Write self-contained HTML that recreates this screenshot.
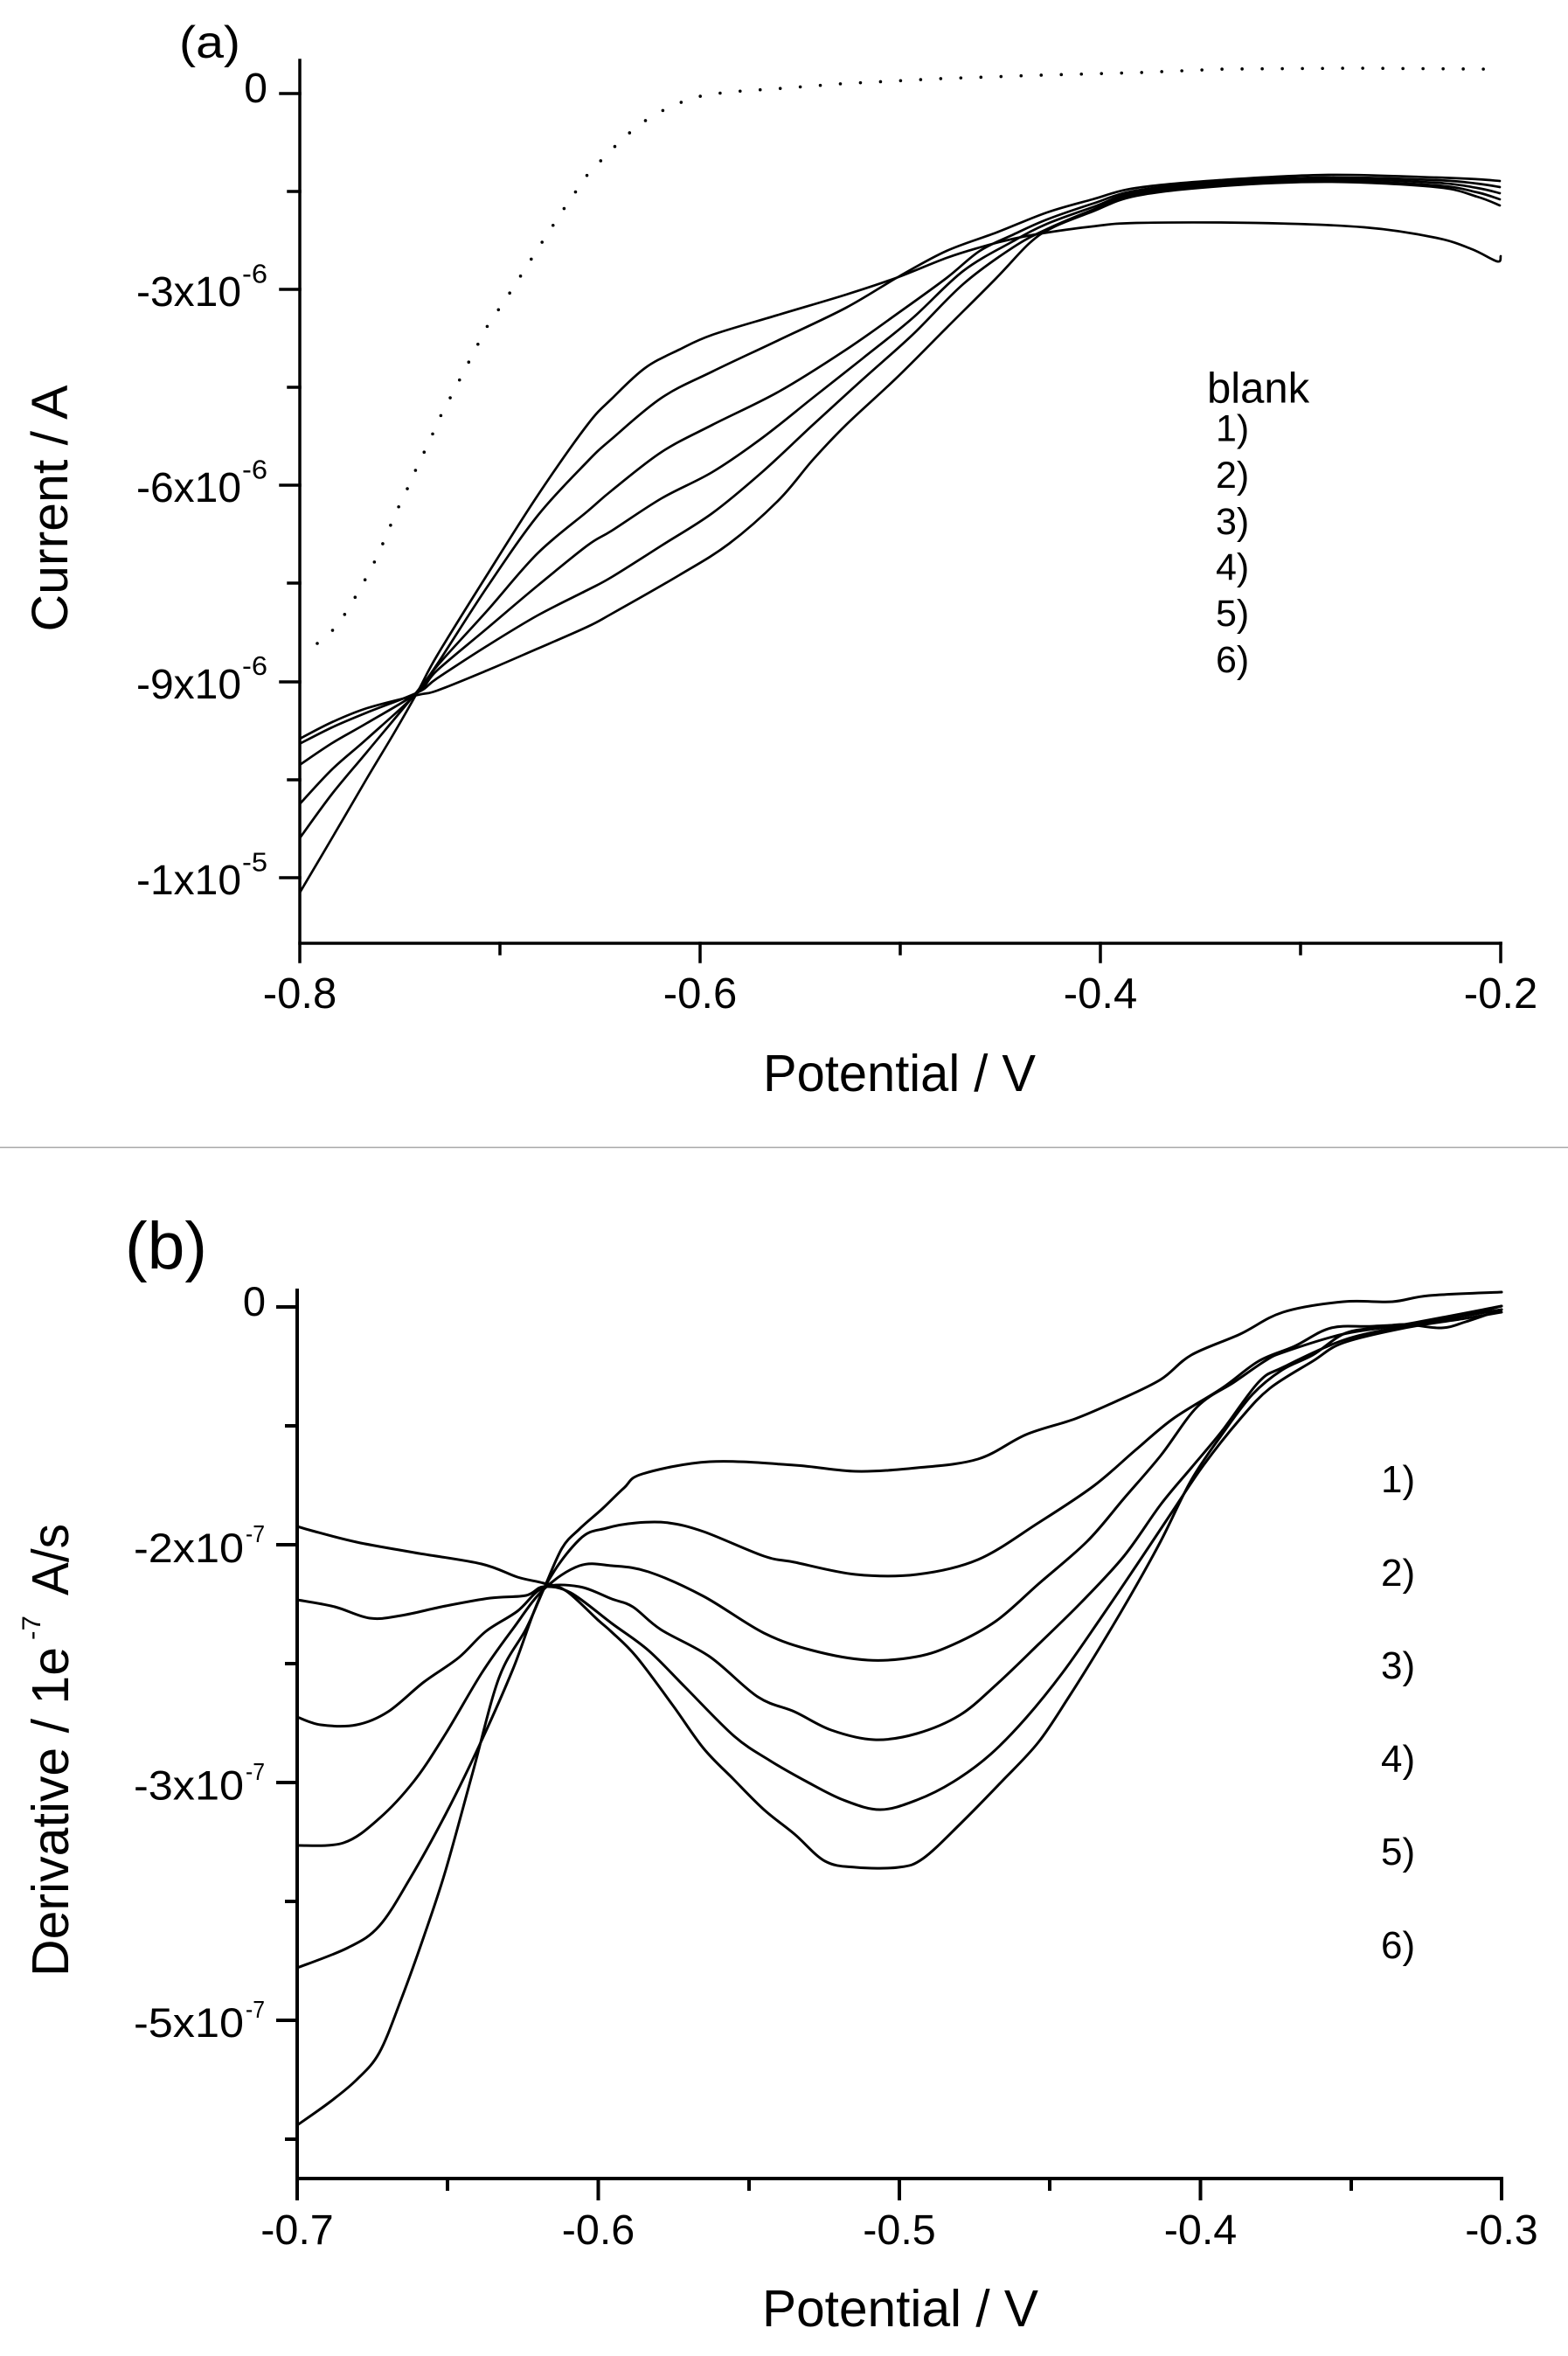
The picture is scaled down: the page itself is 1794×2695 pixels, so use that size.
<!DOCTYPE html>
<html>
<head>
<meta charset="utf-8">
<style>
  html, body { margin: 0; padding: 0; background: #fff; }
  svg { display: block; }
  text { font-family: "Liberation Sans", Arial, sans-serif; fill: #000; }
</style>
</head>
<body>
<svg id="chart" width="1794" height="2695" viewBox="0 0 1794 2695" xmlns="http://www.w3.org/2000/svg">
  <rect x="0" y="0" width="1794" height="2695" fill="#fff"/>

  <!-- ================= PANEL (a) ================= -->
  <text x="205" y="66" font-size="52" textLength="70" lengthAdjust="spacingAndGlyphs">(a)</text>

  <g stroke="#000" stroke-width="3.5" fill="none" stroke-linecap="square">
    <line x1="343" y1="69" x2="343" y2="1100"/>
    <line x1="343" y1="1079" x2="1717" y2="1079"/>
    <line x1="321" y1="107" x2="343" y2="107"/>
    <line x1="321" y1="331" x2="343" y2="331"/>
    <line x1="321" y1="555" x2="343" y2="555"/>
    <line x1="321" y1="780" x2="343" y2="780"/>
    <line x1="321" y1="1004" x2="343" y2="1004"/>
    <line x1="330" y1="219" x2="343" y2="219"/>
    <line x1="330" y1="443" x2="343" y2="443"/>
    <line x1="330" y1="667" x2="343" y2="667"/>
    <line x1="330" y1="892" x2="343" y2="892"/>
    <line x1="801" y1="1079" x2="801" y2="1100"/>
    <line x1="1259" y1="1079" x2="1259" y2="1100"/>
    <line x1="1717" y1="1079" x2="1717" y2="1100"/>
    <line x1="572" y1="1079" x2="572" y2="1091"/>
    <line x1="1030" y1="1079" x2="1030" y2="1091"/>
    <line x1="1488" y1="1079" x2="1488" y2="1091"/>
  </g>

  <g font-size="48">
    <text x="306" y="117" text-anchor="end">0</text>
    <text x="276" y="350" text-anchor="end" textLength="120" lengthAdjust="spacingAndGlyphs">-3x10</text>
    <text x="276" y="574" text-anchor="end" textLength="120" lengthAdjust="spacingAndGlyphs">-6x10</text>
    <text x="276" y="799" text-anchor="end" textLength="120" lengthAdjust="spacingAndGlyphs">-9x10</text>
    <text x="276" y="1023" text-anchor="end" textLength="120" lengthAdjust="spacingAndGlyphs">-1x10</text>
  </g>
  <g font-size="31">
    <text x="277" y="323.5" textLength="29" lengthAdjust="spacingAndGlyphs">-6</text>
    <text x="277" y="547.5" textLength="29" lengthAdjust="spacingAndGlyphs">-6</text>
    <text x="277" y="772" textLength="29" lengthAdjust="spacingAndGlyphs">-6</text>
    <text x="277" y="996.5" textLength="29" lengthAdjust="spacingAndGlyphs">-5</text>
  </g>

  <g font-size="49" text-anchor="middle">
    <text x="343" y="1153">-0.8</text>
    <text x="801" y="1153">-0.6</text>
    <text x="1259" y="1153">-0.4</text>
    <text x="1717" y="1153">-0.2</text>
  </g>

  <text x="873" y="1248" font-size="59" textLength="312" lengthAdjust="spacingAndGlyphs">Potential / V</text>
  <text transform="translate(77,722.5) rotate(-90)" font-size="58" textLength="282" lengthAdjust="spacingAndGlyphs">Current / A</text>

  <text x="1381" y="460.6" font-size="49">blank</text>
  <g font-size="43">
    <text x="1391" y="504.5">1)</text>
    <text x="1391" y="558">2)</text>
    <text x="1391" y="611">3)</text>
    <text x="1391" y="663">4)</text>
    <text x="1391" y="716">5)</text>
    <text x="1391" y="769">6)</text>
  </g>

  <polyline fill="none" stroke="#000" stroke-width="3.6" stroke-linecap="round" stroke-dasharray="0 23"
    points="363,736 384,718 399,696 411,675 424,652 434,631 444,608 452,588 463,566 473,543 483,522 493,501 503,478 523,440 557,374 586,331 615,285 643,242 672,200 692,179 712,159 732,142 753,129 774,119 796,111 819,107 844,104.5 902,100.5 959,96 1074,90 1189,86 1304,83 1400,79 1550,78 1698,79 1717,72"/>

  <g fill="none" stroke="#000" stroke-width="2.7" stroke-linejoin="round" stroke-linecap="round">
    <polyline class="s" points="343,1021 382,955 420,890 450,840 478,791 500,750 557,658 615,567 672,486 700,456 738,421 777,400 815,383 891,360 968,337 1025,318 1083,295 1121,283 1160,273 1198,266 1250,259 1300,255 1437,255 1561,260 1643,272 1684,285 1713,299 1717,293"/>
    <polyline class="s" points="343,958.6 380,908 420,860 478,790 500,760 557,672 615,590 672,528 700,502 757,455 815,425 891,389 968,352 1029,316 1083,287 1140,266 1198,243 1250,228 1300,215 1396,206 1520,200 1643,203 1690,205 1716,207"/>
    <polyline class="s" points="343,919.6 380,880 420,845 478,792 500,762 557,699 615,633 672,585 700,561 757,517 815,486 891,448 968,400 1025,360 1083,318 1121,287 1160,268 1198,251 1250,233 1300,218 1396,208 1520,203 1643,206 1690,210 1716,214"/>
    <polyline class="s" points="343,874.8 380,850 420,827 478,792 500,767 557,719 615,670 672,624 700,607 757,570 815,540 872,501 930,455 987,410 1044,364 1102,310 1159,276 1198,256 1250,237 1300,220 1396,210 1520,205 1643,209 1690,215 1716,221"/>
    <polyline class="s" points="343,850.7 380,832 420,815 478,792 500,776 557,739 615,704 672,675 700,660 757,624 815,587 872,540 930,486 987,434 1044,383 1102,325 1159,283 1198,262 1250,240 1300,222 1396,212 1520,207 1643,212 1690,220 1716,228"/>
    <polyline class="s" points="343,845 380,826 420,810 478,795 500,790 557,767 615,742 672,717 700,702 777,658 834,622 891,572 930,526 968,486 1025,433 1083,375 1140,318 1178,278 1205,260 1250,242 1300,224 1396,213 1520,208 1643,214 1690,225 1716,235"/>
  </g>

  <line x1="0" y1="1312.5" x2="1794" y2="1312.5" stroke="#a8a8a8" stroke-width="1.5"/>

  <!-- ================= PANEL (b) ================= -->
  <text x="143" y="1451" font-size="76" textLength="94" lengthAdjust="spacingAndGlyphs">(b)</text>

  <g stroke="#000" stroke-width="4" fill="none" stroke-linecap="square">
    <line x1="340" y1="1476" x2="340" y2="2515"/>
    <line x1="340" y1="2492" x2="1718" y2="2492"/>
    <line x1="318" y1="1495" x2="340" y2="1495"/>
    <line x1="318" y1="1767" x2="340" y2="1767"/>
    <line x1="318" y1="2039" x2="340" y2="2039"/>
    <line x1="318" y1="2311" x2="340" y2="2311"/>
    <line x1="328" y1="1631" x2="340" y2="1631"/>
    <line x1="328" y1="1903" x2="340" y2="1903"/>
    <line x1="328" y1="2175" x2="340" y2="2175"/>
    <line x1="328" y1="2447" x2="340" y2="2447"/>
    <line x1="684.5" y1="2492" x2="684.5" y2="2515"/>
    <line x1="1029" y1="2492" x2="1029" y2="2515"/>
    <line x1="1373.5" y1="2492" x2="1373.5" y2="2515"/>
    <line x1="1718" y1="2492" x2="1718" y2="2515"/>
    <line x1="512" y1="2492" x2="512" y2="2504"/>
    <line x1="857" y1="2492" x2="857" y2="2504"/>
    <line x1="1201" y1="2492" x2="1201" y2="2504"/>
    <line x1="1546" y1="2492" x2="1546" y2="2504"/>
  </g>

  <g font-size="47">
    <text x="304" y="1505" text-anchor="end">0</text>
    <text x="279" y="1787" text-anchor="end" textLength="126" lengthAdjust="spacingAndGlyphs">-2x10</text>
    <text x="279" y="2058.5" text-anchor="end" textLength="126" lengthAdjust="spacingAndGlyphs">-3x10</text>
    <text x="279" y="2330" text-anchor="end" textLength="126" lengthAdjust="spacingAndGlyphs">-5x10</text>
  </g>
  <g font-size="28">
    <text x="281" y="1764" textLength="22" lengthAdjust="spacingAndGlyphs">-7</text>
    <text x="281" y="2036" textLength="22" lengthAdjust="spacingAndGlyphs">-7</text>
    <text x="281" y="2308" textLength="22" lengthAdjust="spacingAndGlyphs">-7</text>
  </g>

  <g font-size="48.5" text-anchor="middle">
    <text x="340" y="2567">-0.7</text>
    <text x="684.5" y="2567">-0.6</text>
    <text x="1029" y="2567">-0.5</text>
    <text x="1373.5" y="2567">-0.4</text>
    <text x="1718" y="2567">-0.3</text>
  </g>

  <text x="872" y="2661" font-size="59" textLength="316" lengthAdjust="spacingAndGlyphs">Potential / V</text>

  <g transform="translate(78,2261) rotate(-90)">
    <text x="0" y="0" font-size="59" textLength="377" lengthAdjust="spacingAndGlyphs">Derivative / 1e</text>
    <text x="385" y="-32" font-size="30" textLength="28" lengthAdjust="spacingAndGlyphs">-7</text>
    <text x="436" y="0" font-size="59" textLength="82" lengthAdjust="spacingAndGlyphs">A/s</text>
  </g>

  <g font-size="44">
    <text x="1580" y="1707">1)</text>
    <text x="1580" y="1814">2)</text>
    <text x="1580" y="1920">3)</text>
    <text x="1580" y="2027">4)</text>
    <text x="1580" y="2133">5)</text>
    <text x="1580" y="2240">6)</text>
  </g>

  <g fill="none" stroke="#000" stroke-width="3" stroke-linejoin="round" stroke-linecap="round">
    <polyline class="s" points="340,1746 357,1751 408,1764 474,1776 551,1789 592,1804 622,1811 648,1820 684,1853 700,1867 728,1895 770,1951 805,2000 839,2035 874,2070 909,2098 944,2129 979,2136 1028,2136 1056,2126 1098,2087 1146,2038 1188,1993 1223,1941 1258,1885 1293,1826 1328,1763 1363,1693 1398,1641 1433,1595 1467,1567 1502,1550 1537,1526 1572,1519 1607,1515 1649,1519 1677,1512 1718,1498"/>
    <polyline class="s" points="340,1830 383,1838 423,1851 459,1848 510,1837 561,1828 602,1825 622,1815 653,1822 700,1857 742,1888 784,1930 840,1986 881,2014 923,2038 965,2059 1007,2070 1049,2059 1091,2038 1133,2007 1174,1965 1216,1913 1258,1853 1300,1791 1342,1728 1377,1676 1419,1623 1453,1588 1502,1557 1537,1536 1607,1519 1677,1508 1718,1501"/>
    <polyline class="s" points="340,1964 367,1973 408,1973 444,1958 485,1924 525,1896 556,1866 592,1843 622,1816 663,1815 700,1829 724,1838 756,1864 812,1895 867,1941 909,1958 951,1979 1000,1990 1049,1983 1098,1962 1140,1927 1188,1881 1237,1833 1286,1780 1328,1721 1363,1679 1398,1637 1440,1581 1468,1564 1537,1533 1607,1517 1677,1505 1718,1498"/>
    <polyline class="s" points="340,2111 393,2108 434,2080 474,2037 510,1983 551,1914 587,1863 622,1818 663,1791 700,1791 742,1798 805,1826 874,1868 930,1888 993,1899 1049,1895 1091,1881 1140,1854 1188,1812 1244,1763 1286,1714 1328,1665 1370,1609 1412,1581 1447,1557 1468,1547 1537,1526 1607,1515 1718,1494"/>
    <polyline class="s" points="340,2251 398,2228 434,2203 469,2149 510,2075 551,1991 587,1909 622,1818 663,1761 694,1748 728,1742 765,1742 805,1752 874,1780 909,1787 979,1801 1049,1801 1119,1784 1188,1742 1251,1700 1300,1658 1342,1623 1398,1588 1440,1557 1481,1540 1523,1519 1572,1517 1642,1512 1718,1494"/>
    <polyline class="s" points="340,2431 378,2404 408,2379 434,2348 459,2287 485,2215 510,2139 541,2027 571,1919 602,1863 622,1818 643,1771 663,1749 689,1726 714,1702 735,1686 812,1672 909,1676 979,1683 1049,1679 1119,1669 1174,1641 1230,1623 1279,1602 1328,1578 1363,1550 1419,1526 1468,1501 1537,1489 1593,1489 1635,1482 1718,1478"/>
  </g>
</svg>
<script>
(function(){
  var NS = "http://www.w3.org/2000/svg";
  var pls = document.querySelectorAll("polyline.s");
  for (var k = 0; k < pls.length; k++) {
    var pl = pls[k];
    var n = pl.getAttribute("points").trim().split(/[\s,]+/).map(Number);
    var p = [];
    for (var i = 0; i + 1 < n.length; i += 2) p.push([n[i], n[i+1]]);
    if (p.length < 3) continue;
    var d = "M" + p[0][0] + "," + p[0][1];
    for (var i = 0; i < p.length - 1; i++) {
      var p0 = p[i-1] || p[i], p1 = p[i], p2 = p[i+1], p3 = p[i+2] || p[i+1];
      var c1x = p1[0] + (p2[0] - p0[0]) / 6, c1y = p1[1] + (p2[1] - p0[1]) / 6;
      var c2x = p2[0] - (p3[0] - p1[0]) / 6, c2y = p2[1] - (p3[1] - p1[1]) / 6;
      d += " C" + c1x.toFixed(1) + "," + c1y.toFixed(1) + " " + c2x.toFixed(1) + "," + c2y.toFixed(1) + " " + p2[0] + "," + p2[1];
    }
    var path = document.createElementNS(NS, "path");
    path.setAttribute("d", d);
    pl.parentNode.replaceChild(path, pl);
  }
})();
</script>
</body>
</html>
